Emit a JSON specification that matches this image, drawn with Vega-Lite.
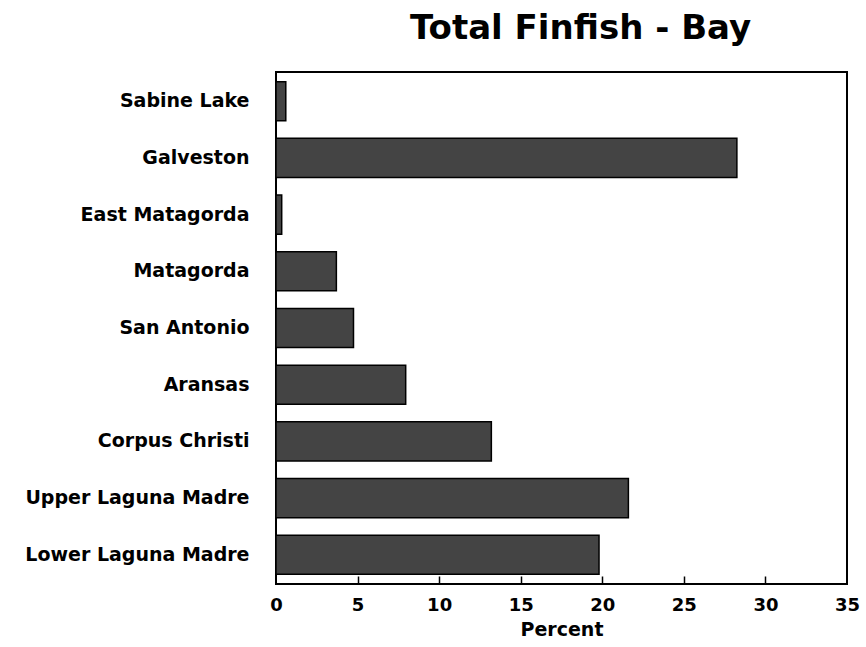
{
  "$schema": "https://vega.github.io/schema/vega-lite/v6.json",
  "autosize": {"type": "none"},
  "padding": {"left": 276, "top": 72, "right": 19, "bottom": 63},
  "width": 571,
  "height": 512,
  "background": "white",
  "title": {
    "text": "Total Finfish - Bay",
    "font": "DejaVu Sans",
    "fontSize": 34,
    "fontWeight": "bold",
    "color": "black",
    "anchor": "middle",
    "dx": 19,
    "offset": 26
  },
  "data": {
    "values": [
      {"bay": "Sabine Lake", "percent": 0.6},
      {"bay": "Galveston", "percent": 28.25},
      {"bay": "East Matagorda", "percent": 0.35},
      {"bay": "Matagorda", "percent": 3.7},
      {"bay": "San Antonio", "percent": 4.75},
      {"bay": "Aransas", "percent": 7.95},
      {"bay": "Corpus Christi", "percent": 13.2},
      {"bay": "Upper Laguna Madre", "percent": 21.6},
      {"bay": "Lower Laguna Madre", "percent": 19.8}
    ]
  },
  "layer": [
    {
      "mark": {"type": "bar", "fill": "#444444", "stroke": "black", "strokeWidth": 1.5},
      "encoding": {
        "y": {
          "field": "bay",
          "type": "nominal",
          "sort": null,
          "scale": {"paddingInner": 0.31, "paddingOuter": 0.17},
          "axis": {
            "title": null,
            "ticks": false,
            "domain": false,
            "labelPadding": 27,
            "labelLimit": 400,
            "labelFont": "DejaVu Sans",
            "labelFontSize": 19,
            "labelFontWeight": "bold",
            "labelColor": "black"
          }
        },
        "x": {
          "field": "percent",
          "type": "quantitative",
          "scale": {"domain": [0, 35], "nice": false},
          "axis": {
            "orient": "bottom",
            "title": "Percent",
            "values": [0, 5, 10, 15, 20, 25, 30, 35],
            "grid": false,
            "domain": false,
            "ticks": false,
            "labelPadding": 12,
            "labelFont": "DejaVu Sans",
            "labelFontSize": 18,
            "labelFontWeight": "bold",
            "labelColor": "black",
            "labelFlush": false,
            "titleFont": "DejaVu Sans",
            "titleFontSize": 19,
            "titleFontWeight": "bold",
            "titleColor": "black",
            "titlePadding": 6
          }
        }
      }
    },
    {
      "mark": {"type": "bar", "opacity": 0},
      "encoding": {
        "x": {
          "field": "percent",
          "type": "quantitative",
          "axis": {
            "orient": "bottom",
            "title": null,
            "values": [5, 10, 15, 20, 25, 30],
            "grid": false,
            "domain": false,
            "labels": false,
            "ticks": true,
            "tickSize": 8,
            "tickWidth": 1.5,
            "tickColor": "black",
            "offset": -8
          }
        }
      }
    }
  ],
  "resolve": {"axis": {"x": "independent"}},
  "config": {
    "view": {"stroke": "black", "strokeWidth": 2}
  }
}
